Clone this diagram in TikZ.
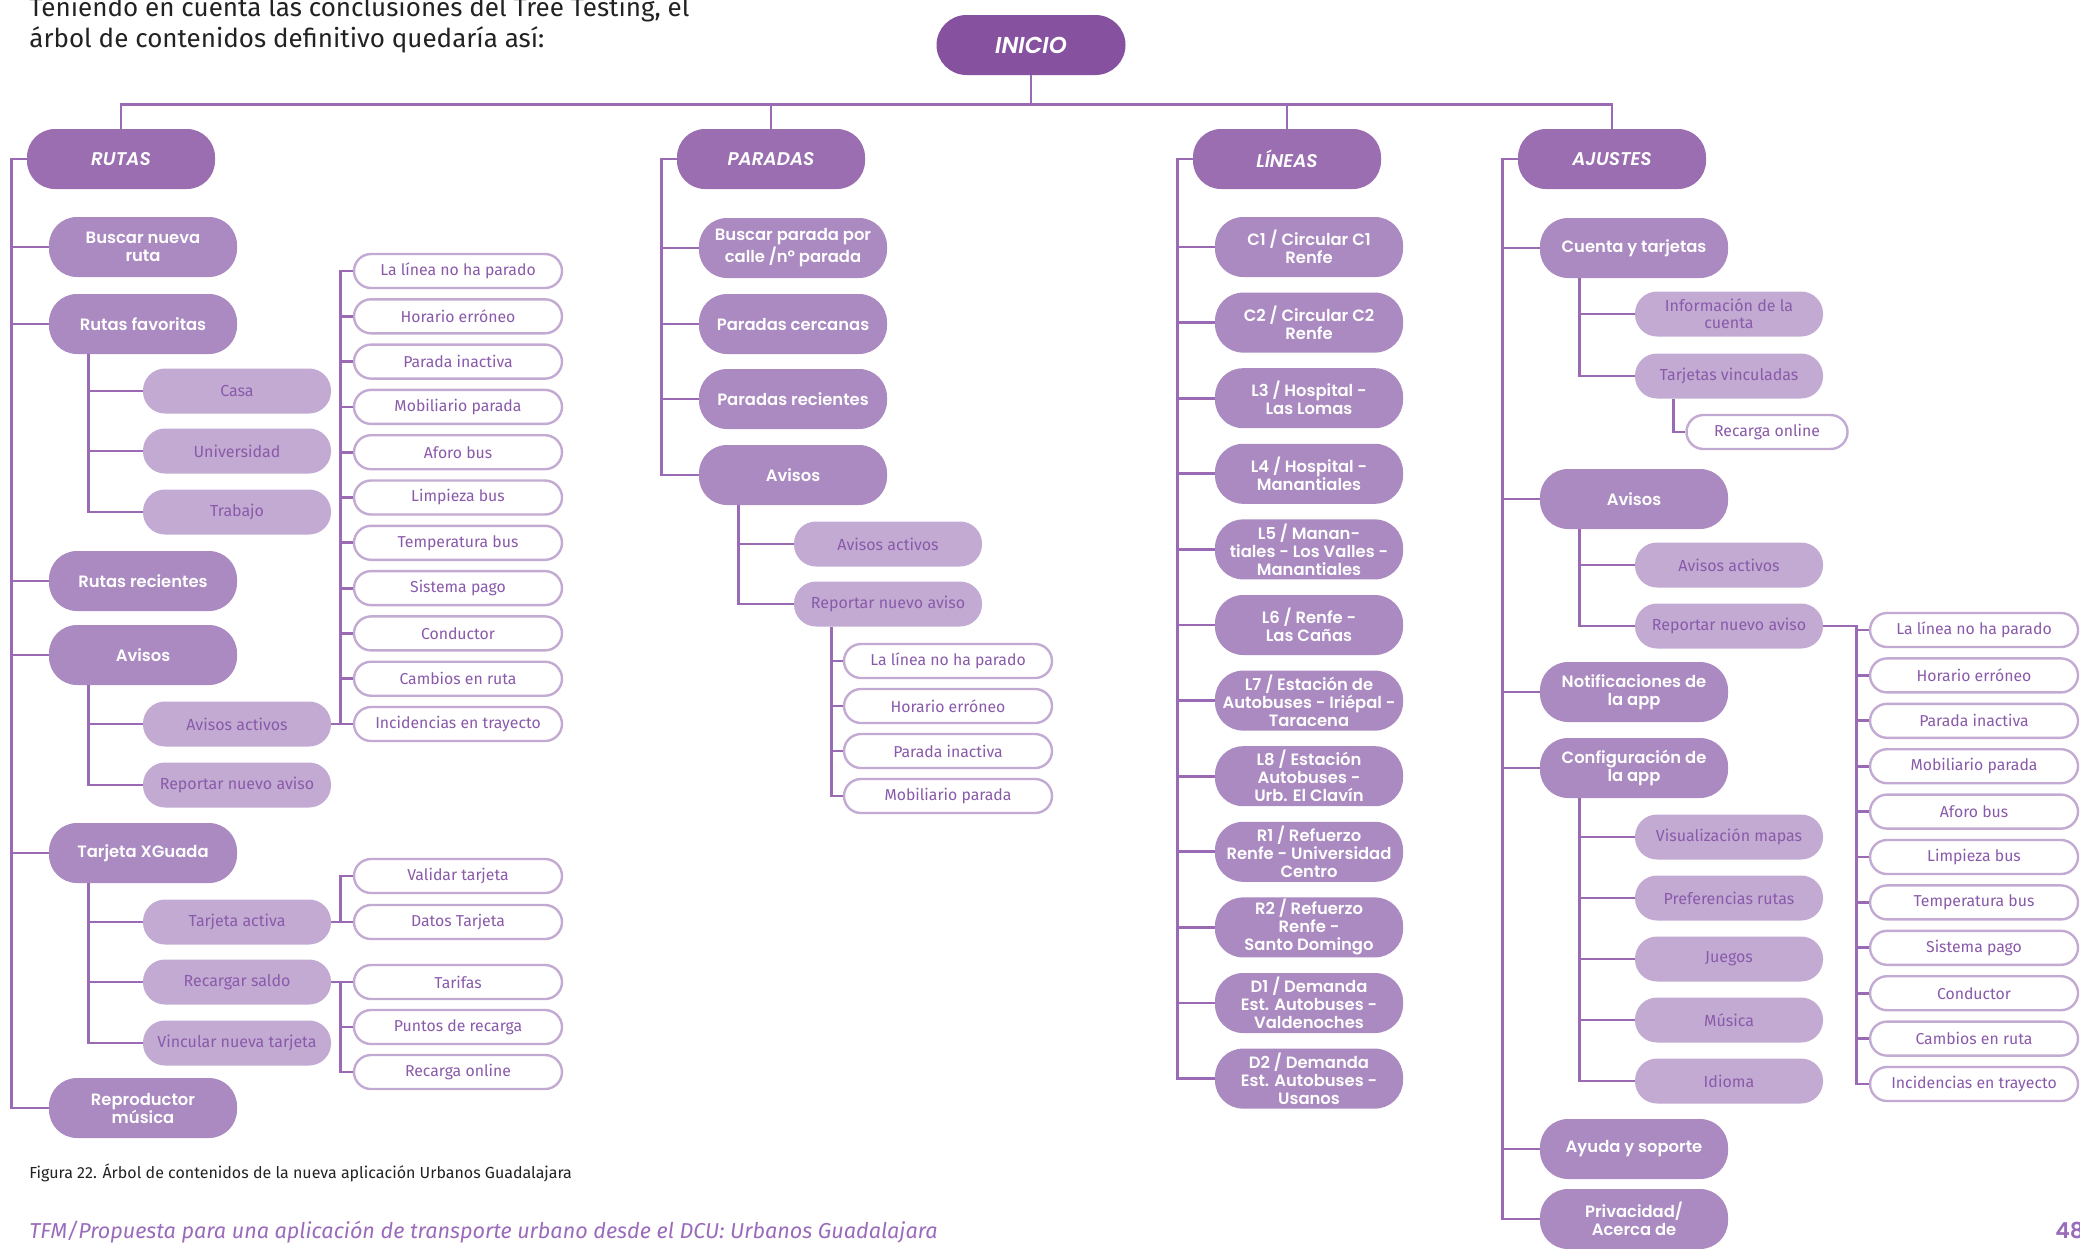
\documentclass[tikz,border=0pt]{standalone}
\usepackage{fontspec}
\setmainfont{Fira Sans}
\newfontfamily\popp{Poppins}[UprightFont=* Medium, BoldFont=* SemiBold, ItalicFont=* Medium Italic, BoldItalicFont=* SemiBold Italic]
\usetikzlibrary{positioning}

\definecolor{inicioC}{HTML}{8652A0}
\definecolor{seccionC}{HTML}{9A6EB0}
\definecolor{opcionC}{HTML}{AA8AC0}
\definecolor{subC}{HTML}{C2AAD2}
\definecolor{subTextC}{HTML}{8A5AAA}
\definecolor{lineC}{HTML}{9A6AB4}
\definecolor{footC}{HTML}{9B6BBB}
\definecolor{introC}{HTML}{222222}

\begin{document}
\begin{tikzpicture}[x=0.5pt, y=-0.5pt, node distance=37.8pt,
  link/.style={draw=lineC, line width=1.4pt},
  inicio/.style={fill=inicioC, text=white, minimum width=94.5pt, minimum height=30pt, rounded corners=15pt, text depth=0pt, yshift=-1pt, font=\popp\bfseries\itshape\fontsize{11.5}{13}\selectfont},
  seccion/.style={fill=seccionC, text=white, minimum width=94pt, minimum height=30pt, rounded corners=14pt, font=\popp\bfseries\itshape\fontsize{9.2}{11}\selectfont},
  opcion/.style={fill=opcionC, text=white, minimum width=94pt, minimum height=30pt, rounded corners=14pt, align=center, inner sep=1pt, font=\popp\bfseries\fontsize{8.2}{9}\selectfont},
  subopcion/.style={fill=subC, text=subTextC, minimum width=94pt, minimum height=22.5pt, rounded corners=11pt, align=center, inner sep=1pt, font=\fontsize{8}{8.4}\selectfont},
  hoja/.style={draw=subC, line width=1.2pt, fill=white, text=subTextC, minimum width=104pt, minimum height=17pt, rounded corners=8.5pt, inner sep=1pt, font=\fontsize{7.9}{8.4}\selectfont}]
\useasboundingbox (0,0) rectangle (2080,1248);

% texto de entrada
\node[anchor=base west, inner sep=0, text=introC, font=\fontsize{13}{15}\selectfont] (intro1) at (29,16) {Teniendo en cuenta las conclusiones del Tree Testing, el};
\node[anchor=base west, inner sep=0, text=introC, font=\fontsize{13}{15}\selectfont] (intro2) at (29,47) {árbol de contenidos definitivo quedaría así:};

% raiz y secciones
\node[inicio] (inicio) at (1031,43) {INICIO};
\node[seccion] (rutas) at (121,159) {RUTAS};
\node[seccion] (paradas) at (771,159) {PARADAS};
\node[seccion] (lineas) at (1287,159) {LÍNEAS};
\node[seccion] (ajustes) at (1612,159) {AJUSTES};
\draw[link] (inicio.south) -- ++(0,29) -| (rutas.north);
\draw[link] (inicio.south) -- ++(0,29) -| (paradas.north);
\draw[link] (inicio.south) -- ++(0,29) -| (lineas.north);
\draw[link] (inicio.south) -- ++(0,29) -| (ajustes.north);

% RUTAS
\node[opcion] (buscarRuta) at (143,247) {Buscar nueva\\ruta};
\node[opcion] (rutasFav) at (143,324) {Rutas favoritas};
\node[subopcion] (casa) at (237,391) {Casa};
\node[subopcion] (universidad) at (237,451) {Universidad};
\node[subopcion] (trabajo) at (237,512) {Trabajo};
\node[opcion] (rutasRec) at (143,581) {Rutas recientes};
\node[opcion] (avisosR) at (143,655) {Avisos};
\node[subopcion] (avActR) at (237,724) {Avisos activos};
\node[subopcion] (repAvR) at (237,785) {Reportar nuevo aviso};
\node[opcion] (tarjXG) at (143,853) {Tarjeta XGuada};
\node[subopcion] (tarjAct) at (237,922) {Tarjeta activa};
\node[subopcion] (recSaldo) at (237,982) {Recargar saldo};
\node[subopcion] (vincular) at (237,1043) {Vincular nueva tarjeta};
\node[opcion] (repro) at (143,1108) {Reproductor\\música};
\foreach \t [count=\i] in {La línea no ha parado, Horario erróneo, Parada inactiva, Mobiliario parada, Aforo bus, Limpieza bus, Temperatura bus, Sistema pago, Conductor, Cambios en ruta, Incidencias en trayecto}
  \node[hoja] (incR\i) at (458,{271+45.3*(\i-1)}) {\t};
\node[hoja] (validar) at (458,876) {Validar tarjeta};
\node[hoja] (datos) at (458,922) {Datos Tarjeta};
\node[hoja] (tarifas) at (458,982) {Tarifas};
\node[hoja] (puntos) at (458,1027) {Puntos de recarga};
\node[hoja] (recOnlineR) at (458,1072) {Recarga online};

\foreach \c in {buscarRuta,rutasFav,rutasRec,avisosR,tarjXG,repro}
  \draw[link] (rutas.west) -- ++(-15,0) |- (\c.west);
\foreach \c in {casa,universidad,trabajo}
  \draw[link] ([xshift=20pt]rutasFav.south west) |- (\c.west);
\foreach \c in {avActR,repAvR}
  \draw[link] ([xshift=20pt]avisosR.south west) |- (\c.west);
\foreach \c in {tarjAct,recSaldo,vincular}
  \draw[link] ([xshift=20pt]tarjXG.south west) |- (\c.west);
\foreach \i in {1,...,11}
  \draw[link] (avActR.east) -| ([xshift=-6pt]incR\i.west) -- (incR\i.west);
\foreach \c in {validar,datos}
  \draw[link] (tarjAct.east) -| ([xshift=-6pt]\c.west) -- (\c.west);
\foreach \c in {tarifas,puntos,recOnlineR}
  \draw[link] (recSaldo.east) -| ([xshift=-6pt]\c.west) -- (\c.west);

% PARADAS
\node[opcion] (buscarParada) at (793,248) {Buscar parada por\\calle /nº parada};
\node[opcion] (cercanas) at (793,324) {Paradas cercanas};
\node[opcion] (recientesP) at (793,399) {Paradas recientes};
\node[opcion] (avisosP) at (793,475) {Avisos};
\node[subopcion] (avActP) at (888,544) {Avisos activos};
\node[subopcion] (repAvP) at (888,604) {Reportar nuevo aviso};
\foreach \t [count=\i] in {La línea no ha parado, Horario erróneo, Parada inactiva, Mobiliario parada}
  \node[hoja] (incP\i) at (948,{661+45*(\i-1)}) {\t};
\foreach \c in {buscarParada,cercanas,recientesP,avisosP}
  \draw[link] (paradas.west) -- ++(-15,0) |- (\c.west);
\foreach \c in {avActP,repAvP}
  \draw[link] ([xshift=20pt]avisosP.south west) |- (\c.west);
\foreach \i in {1,...,4}
  \draw[link] ([xshift=19pt]repAvP.south west) |- (incP\i.west);

% LINEAS
\node[opcion] (c1) at (1309,247) {C1 / Circular C1\\Renfe};
\node[opcion, below of=c1] (c2) {C2 / Circular C2\\Renfe};
\node[opcion, below of=c2] (l3) {L3 / Hospital -\\Las Lomas};
\node[opcion, below of=l3] (l4) {L4 / Hospital -\\Manantiales};
\node[opcion, below of=l4] (l5) {L5 / Manan-\\tiales - Los Valles -\\Manantiales};
\node[opcion, below of=l5] (l6) {L6 / Renfe -\\Las Cañas};
\node[opcion, below of=l6] (l7) {L7 / Estación de\\Autobuses - Iriépal -\\Taracena};
\node[opcion, below of=l7] (l8) {L8 / Estación\\Autobuses -\\Urb. El Clavín};
\node[opcion, below of=l8] (r1) {R1 / Refuerzo\\Renfe - Universidad\\Centro};
\node[opcion, below of=r1] (r2) {R2 / Refuerzo\\Renfe -\\Santo Domingo};
\node[opcion, below of=r2] (d1) {D1 / Demanda\\Est. Autobuses -\\Valdenoches};
\node[opcion, below of=d1] (d2) {D2 / Demanda\\Est. Autobuses -\\Usanos};
\foreach \c in {c1,c2,l3,l4,l5,l6,l7,l8,r1,r2,d1,d2}
  \draw[link] (lineas.west) -- ++(-15,0) |- (\c.west);

% AJUSTES
\node[opcion] (cuenta) at (1634,248) {Cuenta y tarjetas};
\node[subopcion] (infoCuenta) at (1729,314) {Información de la\\cuenta};
\node[subopcion] (tarjVinc) at (1729,376) {Tarjetas vinculadas};
\node[hoja, minimum width=80.5pt] (recOnlineA) at (1767,432) {Recarga online};
\node[opcion] (avisosA) at (1634,499) {Avisos};
\node[subopcion] (avActA) at (1729,565) {Avisos activos};
\node[subopcion] (repAvA) at (1729,626) {Reportar nuevo aviso};
\node[opcion] (notif) at (1634,692) {Notificaciones de\\la app};
\node[opcion] (config) at (1634,768) {Configuración de\\la app};
\node[subopcion] (mapas) at (1729,837) {Visualización mapas};
\node[subopcion] (prefRutas) at (1729,898) {Preferencias rutas};
\node[subopcion] (juegos) at (1729,959) {Juegos};
\node[subopcion] (musica) at (1729,1020) {Música};
\node[subopcion] (idioma) at (1729,1081) {Idioma};
\node[opcion] (ayuda) at (1634,1149) {Ayuda y soporte};
\node[opcion] (privacidad) at (1634,1219) {Privacidad/\\Acerca de};
\foreach \t [count=\i] in {La línea no ha parado, Horario erróneo, Parada inactiva, Mobiliario parada, Aforo bus, Limpieza bus, Temperatura bus, Sistema pago, Conductor, Cambios en ruta, Incidencias en trayecto}
  \node[hoja] (incA\i) at (1974,{630+45.4*(\i-1)}) {\t};
\foreach \c in {cuenta,avisosA,notif,config,ayuda,privacidad}
  \draw[link] (ajustes.west) -- ++(-15,0) |- (\c.west);
\foreach \c in {infoCuenta,tarjVinc}
  \draw[link] ([xshift=20pt]cuenta.south west) |- (\c.west);
\draw[link] ([xshift=19.5pt]tarjVinc.south west) |- (recOnlineA.west);
\foreach \c in {avActA,repAvA}
  \draw[link] ([xshift=20pt]avisosA.south west) |- (\c.west);
\foreach \c in {mapas,prefRutas,juegos,musica,idioma}
  \draw[link] ([xshift=20pt]config.south west) |- (\c.west);
\foreach \i in {1,...,11}
  \draw[link] (repAvA.east) -| ([xshift=-6pt]incA\i.west) -- (incA\i.west);

% pie
\node[anchor=base west, inner sep=0, text=introC, font=\fontsize{8}{9}\selectfont] (caption) at (29,1178) {Figura 22. Árbol de contenidos de la nueva aplicación Urbanos Guadalajara};
\node[anchor=base west, inner sep=0, text=footC, font=\itshape\fontsize{10.8}{12}\selectfont] (footer) at (29,1238) {TFM/Propuesta para una aplicación de transporte urbano desde el DCU: Urbanos Guadalajara};
\node[anchor=base west, inner sep=0, text=footC, font=\popp\bfseries\fontsize{11}{12}\selectfont] (pagina) at (2055,1238) {48};
\end{tikzpicture}
\end{document}
